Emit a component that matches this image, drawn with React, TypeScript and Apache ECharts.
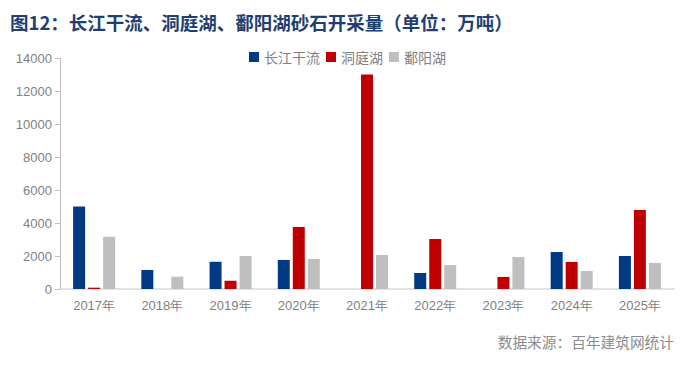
import React, { useEffect, useRef } from "react";
import * as echarts from "echarts";

const categories = ["2017年", "2018年", "2019年", "2020年", "2021年", "2022年", "2023年", "2024年", "2025年"];
const changjiang = [5000, 1150, 1650, 1760, null, 970, null, 2240, 2000];
const dongting = [80, null, 500, 3760, 13000, 3030, 730, 1640, 4790];
const poyang = [3170, 750, 2000, 1820, 2060, 1450, 1940, 1090, 1580];
const seriesNames = ["长江干流", "洞庭湖", "鄱阳湖"];
const colors = ["#003A84", "#C00000", "#BFBFBF"];

export default function App() {
  const ref = useRef<HTMLDivElement>(null);
  useEffect(() => {
    const chart = echarts.init(ref.current!, null, { renderer: "svg" });
    const data = [changjiang, dongting, poyang];
    chart.setOption({
      animation: false,
      backgroundColor: "#ffffff",
      title: {
        text: "图12：长江干流、洞庭湖、鄱阳湖砂石开采量（单位：万吨）",
        left: 5,
        top: 8,
        textStyle: {
          color: "#1F3F73",
          fontSize: 18.5,
          fontWeight: "bold",
          fontFamily: "Noto Sans CJK SC",
        },
      },
      legend: {
        left: 244,
        top: 45,
        itemWidth: 10,
        itemHeight: 10,
        itemGap: 6,
        icon: "rect",
        textStyle: { color: "#7f7f7f", fontSize: 14, fontFamily: "Noto Sans CJK SC" },
        data: seriesNames,
      },
      graphic: [
        {
          type: "text",
          right: 18,
          top: 334,
          style: {
            text: "数据来源：百年建筑网统计",
            fill: "#8c8c8c",
            fontSize: 14.7,
            fontFamily: "Noto Sans CJK SC",
          },
        },
      ],
      grid: { left: 60, right: 18, top: 58, bottom: 79, containLabel: false },
      xAxis: {
        type: "category",
        data: categories,
        axisLine: { lineStyle: { color: "#d9d9d9", width: 1.5 } },
        axisTick: { show: false },
        axisLabel: { color: "#7f7f7f", fontSize: 13, margin: 10, fontFamily: "Liberation Sans" },
      },
      yAxis: {
        type: "value",
        min: 0,
        max: 14000,
        interval: 2000,
        axisLine: { show: true, lineStyle: { color: "#bfbfbf" } },
        axisTick: { show: true, length: 5, lineStyle: { color: "#bfbfbf" } },
        splitLine: { show: false },
        axisLabel: {
          color: "#7f7f7f",
          fontSize: 13,
          margin: 8,
          fontFamily: "Liberation Sans",
          formatter: (v: number) => String(v),
        },
      },
      series: seriesNames.map((name, i) => ({
        name,
        type: "bar",
        data: data[i],
        barWidth: 12,
        barGap: "25%",
        itemStyle: { color: colors[i] },
      })),
    });
    return () => chart.dispose();
  }, []);
  return <div ref={ref} style={{ width: 692, height: 368, position: "absolute", left: 0, top: 0 }} />;
}
